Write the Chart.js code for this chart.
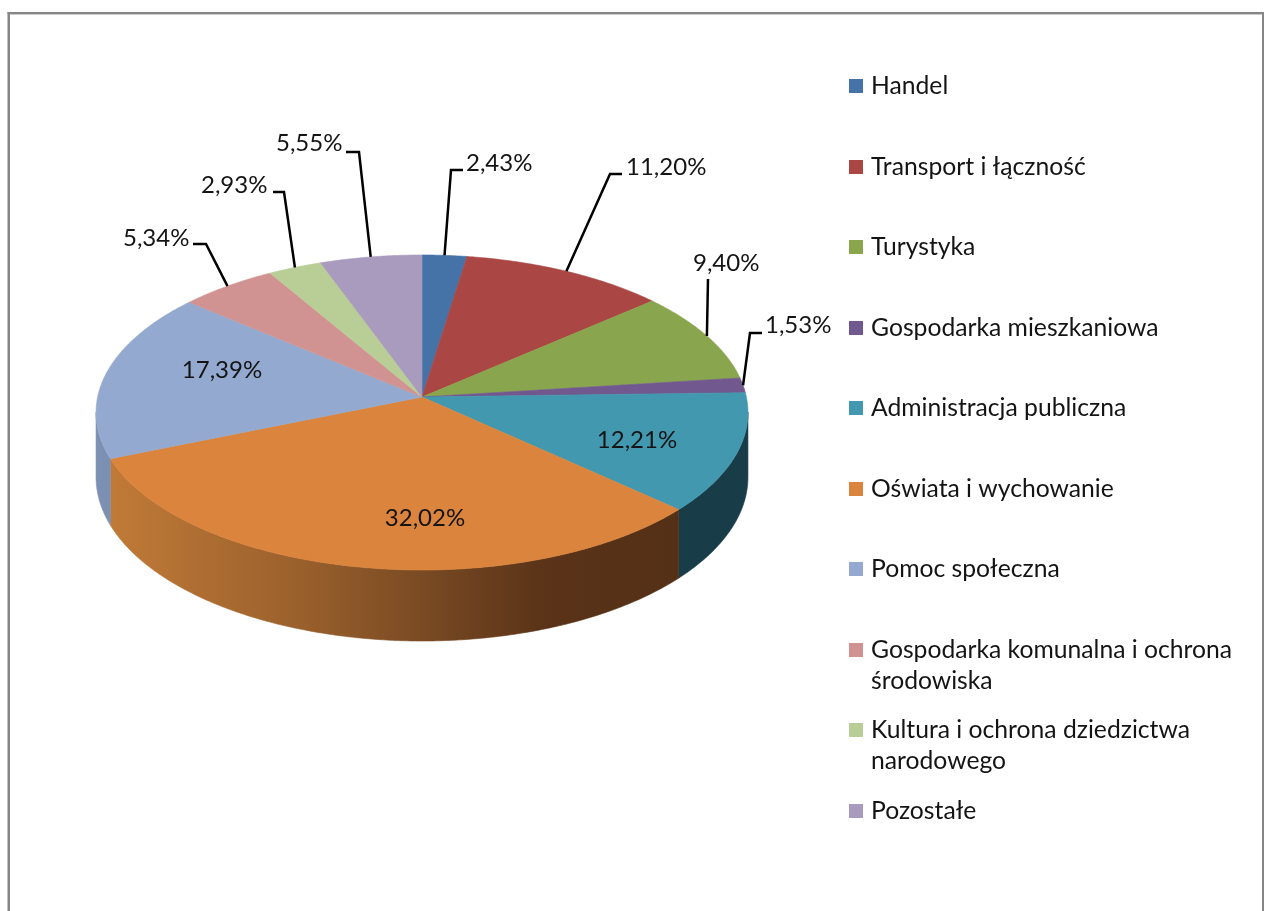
<!DOCTYPE html>
<html lang="pl">
<head>
<meta charset="utf-8">
<title>Struktura wydatków</title>
<script src="https://cdn.jsdelivr.net/npm/chart.js@4"></script>
<style>
html,body{margin:0;padding:0;background:#fff;overflow:hidden}
canvas{display:block}
</style>
</head>
<body>
<canvas id="c" width="1264" height="911"></canvas>
<script>
const categories = [
  ['Handel'],
  ['Transport i łączność'],
  ['Turystyka'],
  ['Gospodarka mieszkaniowa'],
  ['Administracja publiczna'],
  ['Oświata i wychowanie'],
  ['Pomoc społeczna'],
  ['Gospodarka komunalna i ochrona', 'środowiska'],
  ['Kultura i ochrona dziedzictwa', 'narodowego'],
  ['Pozostałe']
];
const shares = [2.43, 11.20, 9.40, 1.53, 12.21, 32.02, 17.39, 5.34, 2.93, 5.55];
const colors = ['#4572A7','#AA4643','#89A54E','#71588F','#4198AF','#DB843D','#93A9CF','#D19392','#B9CD96','#A99BBD'];

// Wall shades of the visible slices
const wallColors = {4: '#193C49', 6: '#7C90B4'};
const wallGradient = [[0,'#C07A37'],[0.33,'#9A602C'],[0.55,'#794A23'],[0.76,'#5A3318'],[1,'#543016']];

// Label placement: [slice, text x, text y, knee x, knee y, end x, end y]
const outsideLabels = [
  [0, 466, 163, 451, 170, 463, 170],
  [1, 626, 167, 610, 174, 622, 174],
  [2, 693, 263, 708, 279, 708, 279],
  [3, 765, 325, 750, 333, 762, 333],
  [7, 123, 238, 206, 244, 193, 244],
  [8, 201, 185, 284, 192, 273, 192],
  [9, 276, 143, 359, 152, 346, 152]
];
const insideLabels = [[4, 637, 440], [5, 425, 518], [6, 222, 370]];

// Projection of the pie's circle onto the tilted disc
const PERSPECTIVE = 0.0984, SQUASH = 0.4785, WIDTH = 0.995, DEPTH = 64;
const FONT = '24px Lato, Carlito, sans-serif';
const LEGEND_FONT = '24.7px Lato, Carlito, sans-serif';
const TEXT = '#141414';

function project(el, angle) {
  const r = el.outerRadius;
  const u = Math.cos(angle), v = Math.sin(angle);
  const w = 1 - PERSPECTIVE * v;
  return {
    x: el.x + r * WIDTH * u / w,
    y: el.y + r * SQUASH * v / w,
    d: DEPTH / w
  };
}
const pct = v => v.toFixed(2).replace('.', ',') + '%';

const disc3d = {
  id: 'disc3d',
  beforeDraw(chart) {
    const c = chart.ctx;
    c.save();
    c.fillStyle = '#fff';
    c.fillRect(0, 0, chart.width, chart.height);
    c.fillStyle = '#868686';
    c.fillRect(7.5, 12, 1256.5, 2.4);
    c.fillRect(7.5, 12, 2.5, chart.height);
    c.fillRect(1262, 12, 2, chart.height);
    c.restore();
  },
  beforeDatasetDraw(chart) {
    const c = chart.ctx;
    const arcs = chart.getDatasetMeta(0).data;
    c.save();
    c.lineJoin = 'round';

    // side wall, front half only
    const g = c.createLinearGradient(113, 0, 679, 0);
    wallGradient.forEach(s => g.addColorStop(s[0], s[1]));
    const lo = 0.096, hi = Math.PI - 0.096;
    arcs.forEach((el, i) => {
      const s = Math.max(el.startAngle, lo), e = Math.min(el.endAngle, hi);
      if (e <= s) return;
      const n = Math.max(4, Math.ceil((e - s) * 120));
      c.beginPath();
      for (let k = 0; k <= n; k++) {
        const p = project(el, s + (e - s) * k / n);
        k ? c.lineTo(p.x, p.y) : c.moveTo(p.x, p.y);
      }
      for (let k = n; k >= 0; k--) {
        const p = project(el, s + (e - s) * k / n);
        c.lineTo(p.x, p.y + p.d);
      }
      c.closePath();
      const col = wallColors[i] || g;
      c.fillStyle = col; c.strokeStyle = col; c.lineWidth = 0.6;
      c.fill(); c.stroke();
    });

    // top surface
    arcs.forEach((el, i) => {
      const s = el.startAngle, e = el.endAngle;
      const n = Math.max(6, Math.ceil((e - s) * 120));
      c.beginPath();
      c.moveTo(el.x, el.y);
      for (let k = 0; k <= n; k++) {
        const p = project(el, s + (e - s) * k / n);
        c.lineTo(p.x, p.y);
      }
      c.closePath();
      c.fillStyle = colors[i]; c.strokeStyle = colors[i]; c.lineWidth = 0.6;
      c.fill(); c.stroke();
    });
    c.restore();
    return false;
  },
  afterDatasetsDraw(chart) {
    const c = chart.ctx;
    const arcs = chart.getDatasetMeta(0).data;
    const vals = chart.data.datasets[0].data;
    c.save();
    c.font = FONT;
    c.textBaseline = 'middle';
    c.fillStyle = TEXT;

    // leader lines and outer labels
    outsideLabels.forEach(([i, tx, ty, kx, ky, ex, ey]) => {
      const el = arcs[i];
      const p = project(el, (el.startAngle + el.endAngle) / 2);
      c.strokeStyle = '#000';
      c.lineWidth = 2.5;
      c.lineJoin = 'miter';
      c.beginPath();
      c.moveTo(p.x, p.y);
      c.lineTo(kx, ky);
      c.lineTo(ex, ey);
      c.stroke();
      c.textAlign = 'left';
      c.fillText(pct(vals[i]), tx, ty);
    });
    // inner labels
    c.textAlign = 'center';
    insideLabels.forEach(([i, tx, ty]) => c.fillText(pct(vals[i]), tx, ty));

    // legend
    c.textAlign = 'left';
    c.font = LEGEND_FONT;
    chart.data.labels.forEach((lines, i) => {
      const y = 86 + i * 80.5;
      c.fillStyle = colors[i];
      c.fillRect(849, Math.round(y) - 7, 14, 14);
      c.fillStyle = TEXT;
      lines.forEach((t, j) => c.fillText(t, 871, y + 0.5 + j * 31));
    });
    c.restore();
  }
};

new Chart(document.getElementById('c'), {
  type: 'pie',
  data: {
    labels: categories,
    datasets: [{ data: shares, backgroundColor: colors, borderWidth: 0 }]
  },
  options: {
    responsive: false,
    animation: false,
    events: [],
    layout: { padding: { left: 96, right: 516, top: 71, bottom: 188 } },
    plugins: { legend: { display: false }, tooltip: { enabled: false }, title: { display: false } }
  },
  plugins: [disc3d]
});
</script>
</body>
</html>
